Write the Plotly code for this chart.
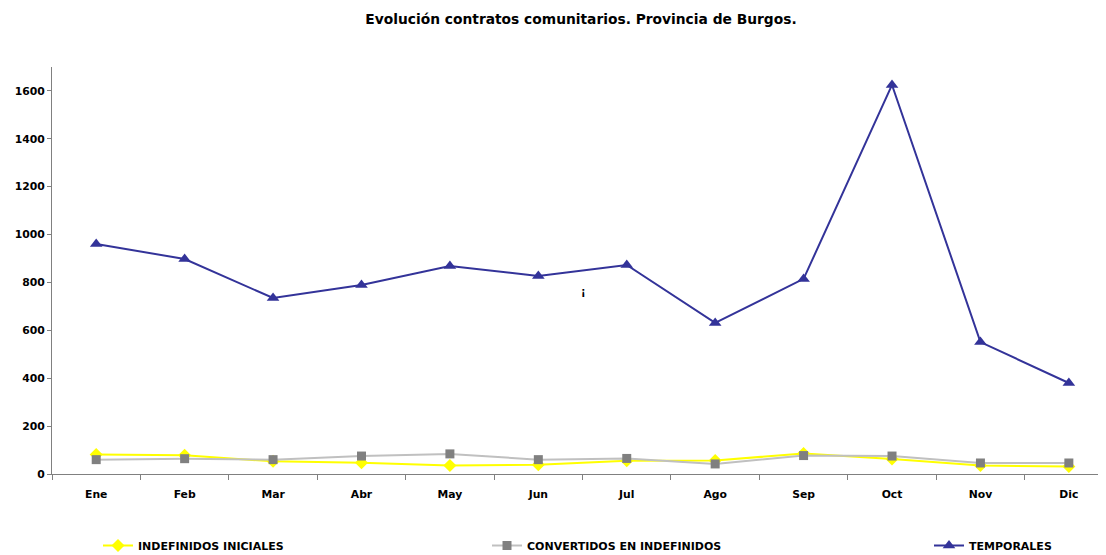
import plotly.graph_objects as go

meses = ["Ene", "Feb", "Mar", "Abr", "May", "Jun", "Jul", "Ago", "Sep", "Oct", "Nov", "Dic"]
indefinidos = [81, 78, 53, 47, 36, 39, 55, 56, 86, 63, 35, 31]
convertidos = [60, 64, 60, 75, 84, 60, 65, 42, 77, 75, 46, 46]
temporales = [961, 898, 735, 789, 869, 827, 873, 631, 815, 1625, 551, 380]

# the page puts the figure 8px in from the top-left corner
W, H = 1098, 547
fnt = "DejaVu Sans, Arial, sans-serif"

fig = go.Figure()
fig.add_trace(go.Scatter(
    x=meses, y=indefinidos, name="INDEFINIDOS INICIALES", mode="lines+markers",
    line=dict(color="#FFFF00", width=2),
    marker=dict(symbol="diamond", size=10, color="#FFFF00"),
    legend="legend",
))
fig.add_trace(go.Scatter(
    x=meses, y=convertidos, name="CONVERTIDOS EN INDEFINIDOS", mode="lines+markers",
    line=dict(color="#C0C0C0", width=2),
    marker=dict(symbol="square", size=9, color="#808080"),
    legend="legend2",
))
fig.add_trace(go.Scatter(
    x=meses, y=temporales, name="TEMPORALES", mode="lines+markers",
    line=dict(color="#333399", width=2),
    marker=dict(symbol="triangle-up", size=11, color="#333399"),
    legend="legend3",
))

legfont = dict(family=fnt, size=11, color="black", weight="bold")


def leg(px):
    return dict(x=px / W, y=1 - 523 / H, xref="container", yref="container",
                xanchor="left", yanchor="top", font=legfont,
                bgcolor="rgba(0,0,0,0)", itemwidth=30)


fig.update_layout(
    width=W, height=H,
    margin=dict(l=44, r=0, t=59, b=81, autoexpand=False),
    plot_bgcolor="white", paper_bgcolor="white",
    title=dict(text="Evolución contratos comunitarios. Provincia de Burgos.",
               x=573 / W, xanchor="center", y=1 - 11 / H, yanchor="middle",
               font=dict(family=fnt, size=13.8, color="black", weight="bold")),
    legend=leg(90),
    legend2=leg(479),
    legend3=leg(921),
    showlegend=True,
)
fig.update_xaxes(
    range=[-0.5, 11.42], showgrid=False, showline=True, linecolor="#808080", linewidth=1,
    ticks="outside", tickson="boundaries", ticklen=5, tickcolor="#808080",
    ticklabelstandoff=10, tickangle=0,
    tickfont=dict(family=fnt, size=10.8, color="black", weight="bold"),
)
fig.update_yaxes(
    range=[0, 1700], dtick=200, showgrid=False, showline=True, linecolor="#808080", linewidth=1,
    ticks="outside", ticklen=4, tickcolor="#808080", zeroline=False,
    tickfont=dict(family=fnt, size=10.8, color="black", weight="bold"),
)
fig.add_annotation(text="¡", xref="x domain", yref="y domain",
                   x=(583 - 52) / (W - 44), y=(474 - 291) / (474 - 67),
                   showarrow=False, font=dict(family=fnt, size=10, color="black", weight="bold"))

fig.write_html("out.html")
